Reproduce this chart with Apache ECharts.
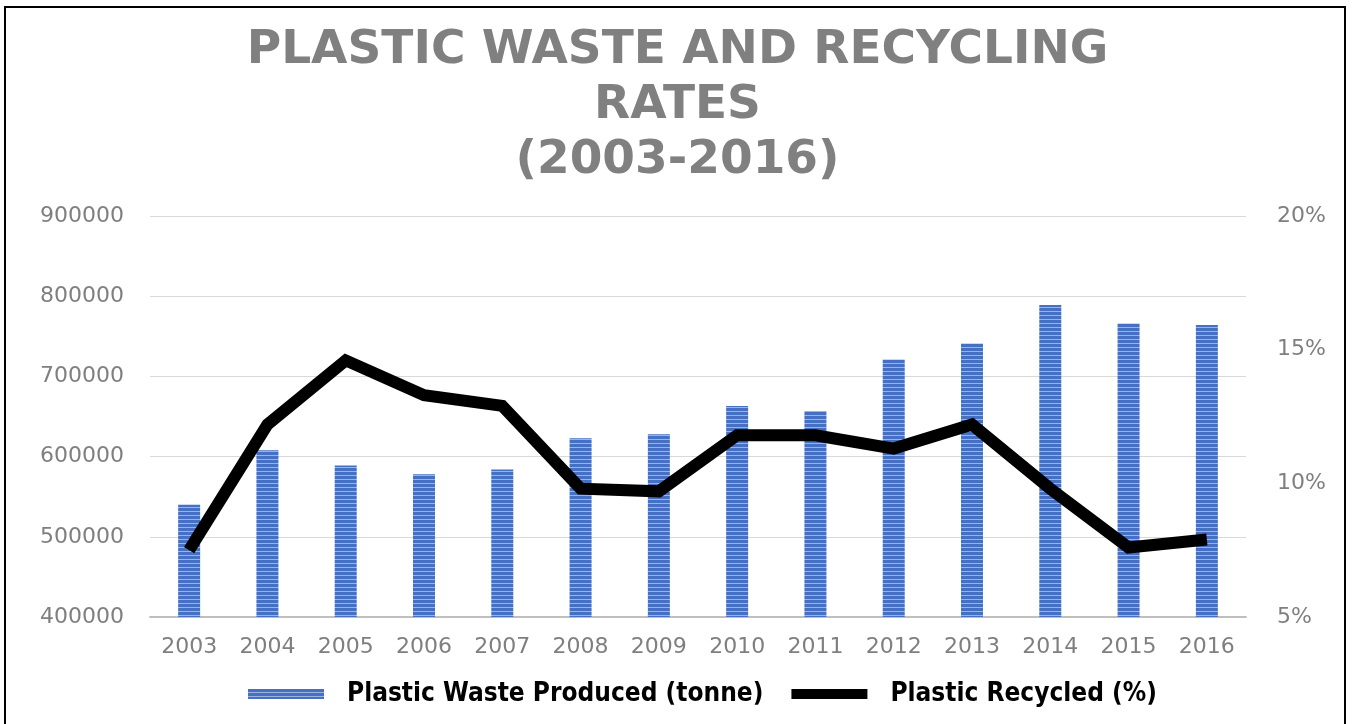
<!DOCTYPE html>
<html>
<head>
<meta charset="utf-8">
<script src="https://cdn.jsdelivr.net/npm/echarts@6/dist/echarts.min.js"></script>
<style>
html,body{margin:0;padding:0;background:#fff;}
#chart{width:1355px;height:724px;}
</style>
</head>
<body>
<div id="chart"></div>
<script>
const years = ['2003','2004','2005','2006','2007','2008','2009','2010','2011','2012','2013','2014','2015','2016'];
const wasteProduced = [540000, 608000, 589000, 578000, 584000, 623000, 628000, 663000, 657000, 721000, 741000, 789000, 766000, 764000];
const recycledPct = [7.5, 12.2, 14.6, 13.3, 12.9, 9.8, 9.7, 11.8, 11.8, 11.3, 12.2, 9.8, 7.6, 7.9];
const leftTicks = [400000, 500000, 600000, 700000, 800000, 900000];
const rightTicks = [5, 10, 15, 20];

const titleText = 'PLASTIC WASTE AND RECYCLING\nRATES\n(2003-2016)';
const wasteName = 'Plastic Waste Produced (tonne)';
const recycledName = 'Plastic Recycled (%)';

// striped fill pattern for the bars
const pc = document.createElement('canvas');
pc.width = 4; pc.height = 4;
const pctx = pc.getContext('2d');
pctx.fillStyle = '#4570c4'; pctx.fillRect(0, 0, 4, 3);
pctx.fillStyle = '#9ab3e3'; pctx.fillRect(0, 3, 4, 1);
const stripe = { image: pc, repeat: 'repeat' };

const chart = echarts.init(document.getElementById('chart'));
const axisFont = { color: '#7f7f7f', fontSize: 22, fontFamily: 'DejaVu Sans' };

chart.setOption({
  animation: false,
  graphic: [{
    type: 'rect',
    shape: { x: 5, y: 7, width: 1340, height: 740 },
    style: { fill: 'none', stroke: '#000', lineWidth: 2 },
    silent: true
  }],
  title: {
    text: titleText,
    left: 'center',
    top: 18,
    textStyle: {
      color: '#808080',
      fontSize: 47,
      fontWeight: 'bold',
      fontFamily: 'DejaVu Sans',
      lineHeight: 55
    }
  },
  legend: {
    left: 243,
    top: 676,
    itemGap: 28,
    itemWidth: 76,
    itemHeight: 10,
    textStyle: {
      color: '#000',
      fontSize: 26,
      fontWeight: 'bold',
      fontFamily: "'Liberation Sans Narrow', 'DejaVu Sans Condensed', sans-serif",
      padding: [0, 0, 0, 18]
    },
    data: [
      { name: wasteName, icon: 'rect', itemStyle: { color: stripe } },
      { name: recycledName, icon: 'rect', itemStyle: { color: '#000' } }
    ]
  },
  grid: { left: 150, right: 109, top: 216, bottom: 107 },
  xAxis: {
    type: 'category',
    data: years,
    axisTick: { show: false },
    axisLine: { lineStyle: { color: '#bfbfbf', width: 2 } },
    axisLabel: Object.assign({ margin: 19 }, axisFont)
  },
  yAxis: [{
    type: 'value',
    min: leftTicks[0],
    max: leftTicks[leftTicks.length - 1],
    interval: 100000,
    axisLine: { show: false },
    axisTick: { show: false },
    splitLine: { lineStyle: { color: '#d9d9d9', width: 1 } },
    axisLabel: Object.assign({ margin: 26, formatter: function (v) { return String(v); } }, axisFont)
  }, {
    type: 'value',
    min: rightTicks[0],
    max: rightTicks[rightTicks.length - 1],
    interval: 5,
    position: 'right',
    axisLine: { show: false },
    axisTick: { show: false },
    splitLine: { show: false },
    axisLabel: Object.assign({ margin: 31, formatter: '{value}%' }, axisFont)
  }],
  series: [{
    name: wasteName,
    type: 'bar',
    data: wasteProduced,
    barWidth: 22,
    itemStyle: { color: stripe }
  }, {
    name: recycledName,
    type: 'line',
    yAxisIndex: 1,
    data: recycledPct,
    symbol: 'none',
    lineStyle: { color: '#000', width: 12, cap: 'butt', join: 'miter' },
    itemStyle: { color: '#000' }
  }]
});
</script>
</body>
</html>
